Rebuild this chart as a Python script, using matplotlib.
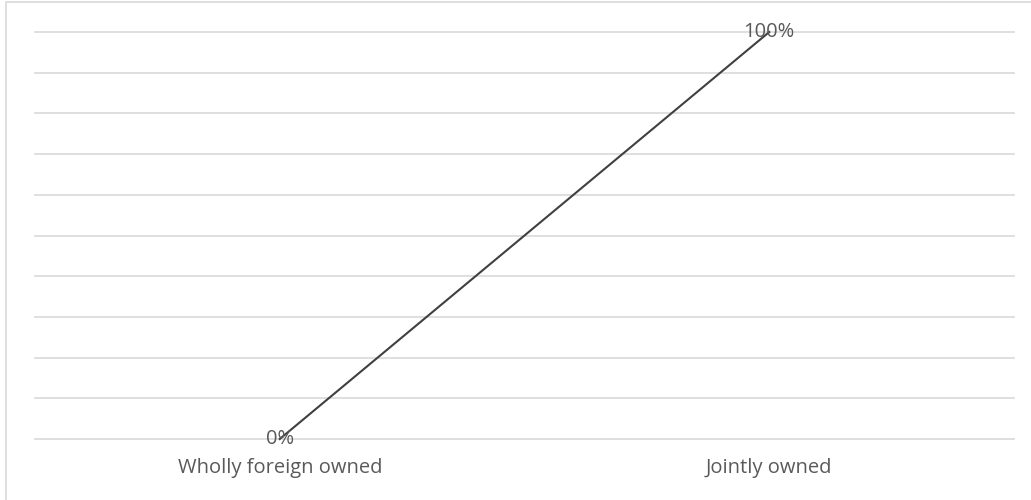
import matplotlib.pyplot as plt
from matplotlib.patches import Rectangle
from matplotlib.ticker import MultipleLocator

# Chart data
categories = ["Wholly foreign owned", "Jointly owned"]
values = [0, 100]
labels = ["0%", "100%"]

plt.rcParams['font.family'] = ['Open Sans', 'DejaVu Sans']

W, H = 1031, 500
fig = plt.figure(figsize=(W / 100, H / 100), dpi=100)
ax = fig.add_axes([35 / W, (H - 439) / H, (1014 - 35) / W, (439 - 32) / H])

x = list(range(len(categories)))
ax.plot(x, values, color='#404040', lw=1.5, zorder=3, clip_on=False)

for xi, v, lab in zip(x, values, labels):
    ax.text(xi, v, lab, ha='center', va='center', fontsize=14.5, color='#595959', zorder=4)

ax.set_xlim(-0.5, len(categories) - 0.5)
ax.set_ylim(0, 100)
ax.yaxis.set_major_locator(MultipleLocator(10))
ax.grid(axis='y', color='#d9d9d9', lw=1.2)
for gl in ax.get_ygridlines():
    gl.set_clip_on(False)
ax.set_axisbelow(True)
ax.set_xticks(x)
ax.set_xticklabels(categories, fontsize=14.5, color='#595959')
ax.tick_params(axis='x', length=0, pad=14)
ax.tick_params(axis='y', length=0, labelleft=False)
for s in ax.spines.values():
    s.set_visible(False)

# outer chart frame (only left and top visible in the crop)
fig.add_artist(Rectangle((6 / W, -0.1), 1.2, 1.1 - 2.5 / H, transform=fig.transFigure,
                         fill=False, edgecolor='#d9d9d9', lw=1.2))

plt.savefig('out.png', dpi=100)
